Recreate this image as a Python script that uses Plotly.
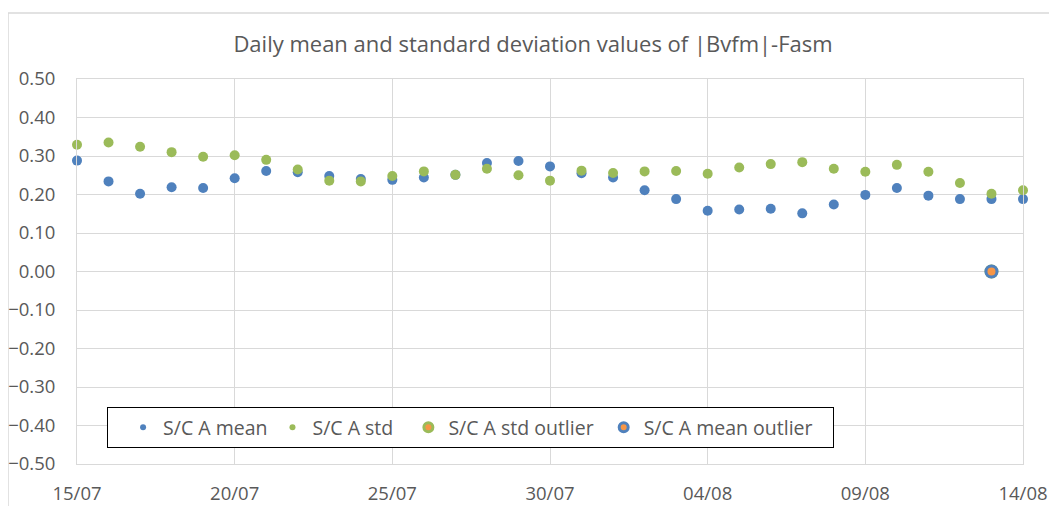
import plotly.graph_objects as go
import pandas as pd

dates = pd.date_range("2020-07-15", "2020-08-14", freq="D")

mean_vals = [0.288, 0.234, 0.202, 0.219, 0.217, 0.242, 0.261, 0.258, 0.248, 0.240,
             0.238, 0.244, 0.251, 0.282, 0.287, 0.273, 0.255, 0.244, 0.211, 0.188,
             0.158, 0.161, 0.163, 0.151, 0.174, 0.199, 0.217, 0.197, 0.188, 0.188,
             0.188]
std_vals = [0.329, 0.335, 0.324, 0.310, 0.298, 0.302, 0.290, 0.265, 0.236, 0.234,
            0.248, 0.260, 0.251, 0.267, 0.250, 0.236, 0.262, 0.256, 0.260, 0.261,
            0.254, 0.270, 0.279, 0.284, 0.267, 0.259, 0.277, 0.259, 0.230, 0.202,
            0.211]
outlier_dates = ["2020-08-13"]
std_outlier_vals = [0.0]
mean_outlier_vals = [0.0]
series_names = ["S/C A mean", "S/C A std", "S/C A std outlier", "S/C A mean outlier"]

BLUE = "#4F81BD"
GREEN = "#9BBB59"
ORANGE = "#F79646"
TXT = "#595959"
GRID = "#D9D9D9"
FONT = "Open Sans"
NB = "\u00a0"

fig = go.Figure()
fig.add_trace(go.Scatter(x=dates, y=mean_vals, mode="markers", name=series_names[0],
                         marker=dict(color=BLUE, size=10), cliponaxis=False, showlegend=False))
fig.add_trace(go.Scatter(x=dates, y=std_vals, mode="markers", name=series_names[1],
                         marker=dict(color=GREEN, size=10), cliponaxis=False, showlegend=False))
fig.add_trace(go.Scatter(x=outlier_dates, y=std_outlier_vals, mode="markers", name=series_names[2],
                         marker=dict(color=ORANGE, size=11, line=dict(color=GREEN, width=3)),
                         cliponaxis=False, showlegend=False))
fig.add_trace(go.Scatter(x=outlier_dates, y=mean_outlier_vals, mode="markers", name=series_names[3],
                         marker=dict(color=ORANGE, size=11, line=dict(color=BLUE, width=3)),
                         cliponaxis=False, showlegend=False))

# legend entries (padding with non-breaking spaces to mimic the original spacing)
pads = [0, 2, 1, 3]
leg_markers = [dict(color=BLUE, size=6), dict(color=GREEN, size=6),
               dict(color=ORANGE, size=9, line=dict(color=GREEN, width=3)),
               dict(color=ORANGE, size=9, line=dict(color=BLUE, width=3))]
for nm, pd_, mk in zip(series_names, pads, leg_markers):
    fig.add_trace(go.Scatter(x=[None], y=[None], mode="markers", name=nm + NB * pd_, marker=mk))

OFF = 8  # page body margin
W, H = 1057 - OFF, 506 - OFF
L, T = 77 - OFF, 79 - OFF
R, B = 1057 - 1023, 506 - 464
pw, ph = W - L - R, H - T - B

def sx(px):  # screen x -> paper
    return (px - OFF - L) / pw

def sy(py):  # screen y -> paper
    return (H - B - (py - OFF)) / ph

fig.update_layout(
    width=W, height=H,
    margin=dict(l=L, r=R, t=T, b=B, autoexpand=False),
    paper_bgcolor="white", plot_bgcolor="white",
    font=dict(family=FONT, color=TXT, size=18.5),
    title=dict(text="Daily mean and standard deviation values of |Bvfm|-Fasm",
               x=(533 - OFF) / W, xanchor="center", y=1 - (44 - OFF) / H, yanchor="middle",
               font=dict(size=22, color=TXT, family=FONT)),
    xaxis=dict(type="date", range=["2020-07-15", "2020-08-14"],
               tick0="2020-07-15", dtick=5 * 86400000, tickformat="%d/%m",
               showgrid=True, gridcolor=GRID, gridwidth=1,
               showline=True, linecolor=GRID, mirror=True, zeroline=False,
               ticks="", ticklabelstandoff=13, automargin=False),
    yaxis=dict(range=[-0.5, 0.5], dtick=0.1, tick0=0, tickformat=".2f",
               showgrid=True, gridcolor=GRID, gridwidth=1,
               showline=True, linecolor=GRID, mirror=True, zeroline=False,
               ticks="", ticklabelstandoff=17, automargin=False),
    legend=dict(orientation="h", x=sx(107), xanchor="left", y=sy(407), yanchor="top",
                bordercolor="black", borderwidth=1, bgcolor="white",
                title=dict(text=NB, side="left", font=dict(size=19.5)),
                font=dict(size=19.5, color=TXT, family=FONT)),
    shapes=[dict(type="rect", xref="paper", yref="paper",
                 x0=sx(8), x1=sx(1062), y0=sy(520), y1=sy(13),
                 line=dict(color=GRID, width=1.5), fillcolor="rgba(0,0,0,0)", layer="below")],
)

fig.write_html("out.html")
